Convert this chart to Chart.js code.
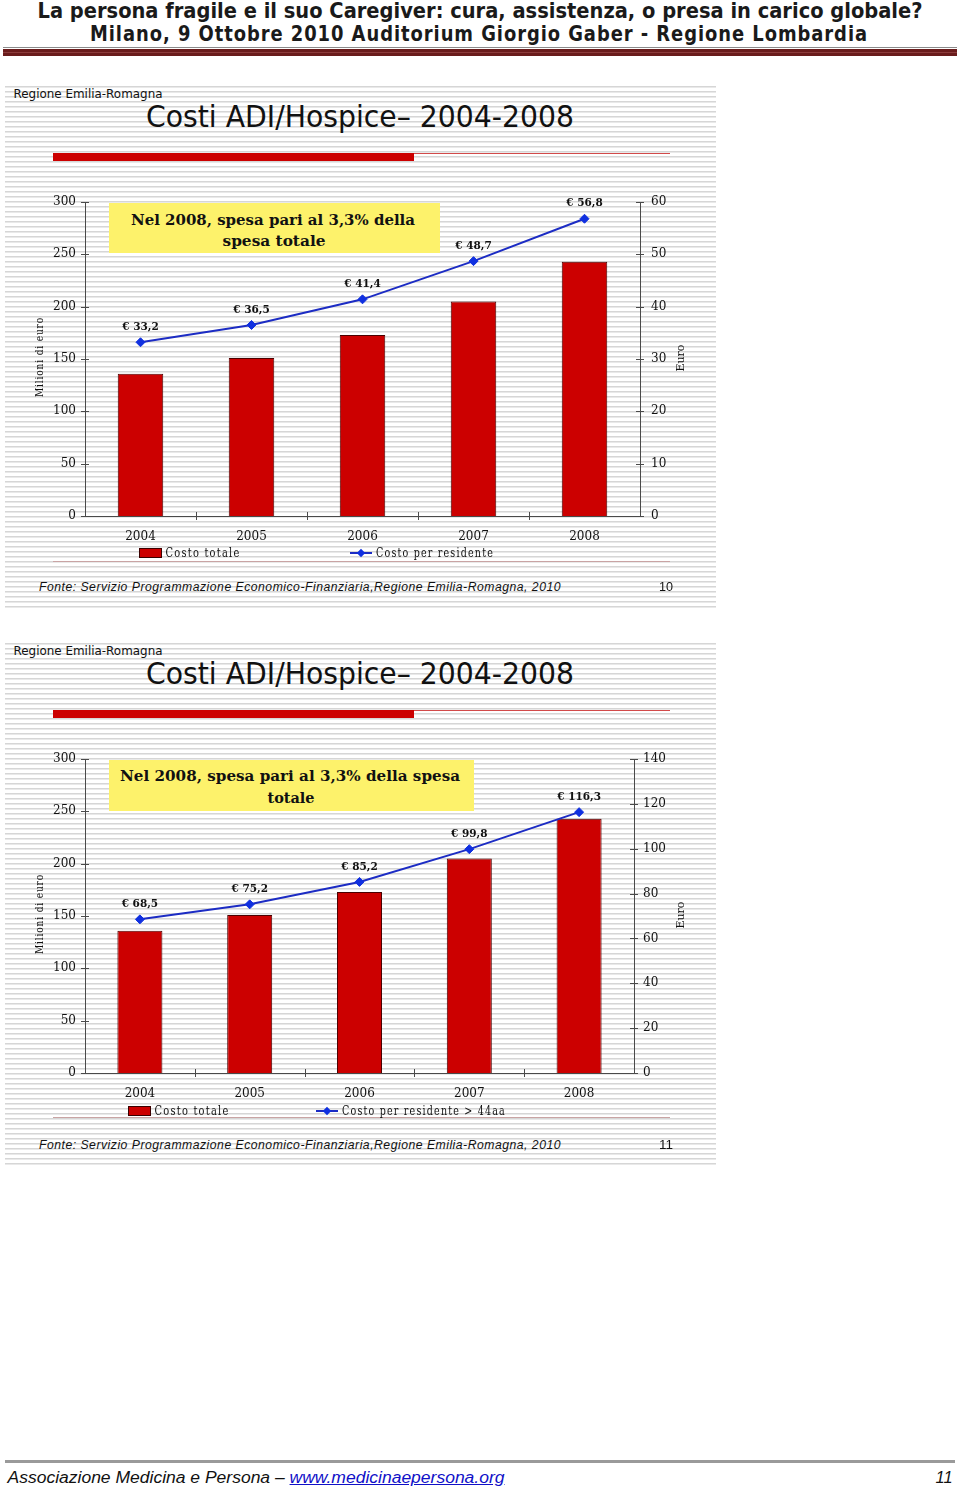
<!DOCTYPE html>
<html>
<head>
<meta charset="utf-8">
<script src="https://cdn.jsdelivr.net/npm/chart.js@4.4.1/dist/chart.umd.min.js"></script>
<style>
html,body{margin:0;padding:0;background:#fff;}
body{width:960px;height:1492px;position:relative;overflow:hidden;}
.a{position:absolute;white-space:nowrap;line-height:1;}
.blk{position:absolute;}
canvas{position:absolute;left:0;}
</style>
</head>
<body>
<script>
// ---------------- DATA ----------------
const years = ['2004', '2005', '2006', '2007', '2008'];
const costoTotale = [136, 151, 173, 205, 243];          // milioni di euro
const costoPerResidente = [33.2, 36.5, 41.4, 48.7, 56.8];      // euro
const costoPerResidente44 = [68.5, 75.2, 85.2, 99.8, 116.3];   // euro, residenti > 44 anni
const leftAxis = {min: 0, max: 300, step: 50};
const rightAxis1 = {min: 0, max: 60, step: 10};
const rightAxis2 = {min: 0, max: 140, step: 20};

const SERIF = '"DejaVu Serif", serif';
const SANS = '"DejaVu Sans", Verdana, sans-serif';
const HELV = '"Liberation Sans", Arial, sans-serif';
const NARROW = '"Liberation Sans Narrow", "DejaVu Sans Condensed", "Liberation Sans", sans-serif';
const AXIS = '#4a4a4a';
const RED = '#cc0000';
const BLUE = '#1c2cc4';

function box(l, t, w, h, bg, extra) {
  const d = document.createElement('div');
  d.className = 'blk';
  Object.assign(d.style, {left: l + 'px', top: t + 'px', width: w + 'px', height: h + 'px', background: bg}, extra || {});
  document.body.appendChild(d);
  return d;
}
function txt(s, o) {
  const e = document.createElement('span');
  e.className = 'a';
  if (o.html) e.innerHTML = s; else e.textContent = s;
  Object.assign(e.style, {
    fontFamily: o.font, fontSize: o.size + 'px', fontWeight: o.weight || 'normal',
    fontStyle: o.style || 'normal', color: o.color || '#111', letterSpacing: (o.ls || 0) + 'px',
    left: '0px', top: '0px', zIndex: 5
  });
  document.body.appendChild(e);
  const nat = e.getBoundingClientRect();
  const k = o.w ? o.w / nat.width : 1;
  e.style.left = o.cx + 'px';
  e.style.top = o.cy + 'px';
  e.style.transform = 'translate(-50%,-50%)' + (o.rot ? ' rotate(-90deg)' : '') + ' scaleX(' + k + ')';
  return e;
}

// ---------------- HEADER ----------------
txt('La persona fragile e il suo Caregiver: cura, assistenza, o presa in carico globale?', {cx: 479.5, cy: 11, w: 885, size: 21, font: NARROW, weight: 'bold', color: '#1a1a1a'});
txt('Milano, 9 Ottobre 2010 Auditorium Giorgio Gaber - Regione Lombardia', {cx: 479, cy: 34, w: 778, size: 21, font: NARROW, weight: 'bold', color: '#1a1a1a', ls: 1});
box(3, 47, 954, 1, '#8a8a8a');
box(3, 49, 954, 7, '#6a1c1c');
box(3, 52, 954, 1, '#8c3c3c');

// ---------------- SLIDES ----------------
function slide(dy, opts) {
  box(5, 86 + dy, 711, 523, '', {background: 'repeating-linear-gradient(to bottom,#d6d6d6 0px,#d6d6d6 1px,#e9e9e9 1px,#e9e9e9 2px,#ffffff 2px,#ffffff 5px)'});
  txt('Regione Emilia-Romagna', {cx: 87.5, cy: 94 + dy, w: 149, size: 12, font: SANS});
  txt('Costi ADI/Hospice\u2013 2004-2008', {cx: 360, cy: 117 + dy, w: 428, size: 30, font: SANS});
  box(53, 153 + dy, 361, 8, RED);
  box(414, 153 + dy, 256, 1, '#d24a4a');

  // yellow box
  box(109, opts.yb.t + dy, opts.yb.w, opts.yb.h, '#fdf26b', {zIndex: 4});
  opts.ylines.forEach(l => txt(l.s, {cx: l.cx, cy: l.cy + dy, w: l.w, size: 14.5, font: SERIF, weight: 'bold', color: '#111'}));

  // axis titles
  txt('Milioni di euro', {cx: 39, cy: 357 + dy, w: 80, size: 11, font: SERIF, rot: true, ls: 1});
  txt('Euro', {cx: 680, cy: 358 + dy, w: 27, size: 11, font: SERIF, rot: true});

  // legend
  const L = opts.leg;
  box(L.bx, 548 + dy + (L.ady || 0), 21, 8, RED, {border: '1px solid #3a0000'});
  txt('Costo totale', {cx: L.t1cx, cy: 553 + dy + (L.ady || 0), w: 75, size: 12, font: SERIF, ls: 1.5});
  box(L.lx, 552 + dy + (L.ady || 0), 22, 2, BLUE);
  box(L.lx + 8, 550 + dy + (L.ady || 0), 6, 6, '#1030e0', {transform: 'rotate(45deg)'});
  txt(L.t2, {cx: L.t2cx, cy: 553 + dy + (L.ady || 0), w: L.t2w, size: 12, font: SERIF, ls: 1.5});
  box(53, opts.sepY, 617, 1, '#c9a4a4');

  txt('Fonte: Servizio Programmazione Economico-Finanziaria,Regione Emilia-Romagna, 2010', {cx: 300, cy: opts.fonteY, w: 522, size: 12, font: HELV, style: 'italic', color: '#111', ls: 0.5});
  txt(opts.page, {cx: 666, cy: opts.fonteY, w: 14, size: 12, font: HELV, color: '#111'});

  // chart canvas
  const c = document.createElement('canvas');
  c.width = 720; c.height = 370;
  c.style.top = (182 + dy) + 'px';
  c.style.zIndex = 3;
  document.body.appendChild(c);
  return c;
}

const crossTicks = {
  id: 'crossTicks',
  afterDraw(chart) {
    const ctx = chart.ctx, ca = chart.chartArea;
    const {x, y, y1} = chart.scales;
    ctx.save();
    ctx.strokeStyle = AXIS; ctx.lineWidth = 1;
    ctx.beginPath();
    y.ticks.forEach(t => { const p = Math.round(y.getPixelForValue(t.value)) + 0.5; ctx.moveTo(ca.left - 4, p); ctx.lineTo(ca.left + 4, p); });
    y1.ticks.forEach(t => { const p = Math.round(y1.getPixelForValue(t.value)) + 0.5; ctx.moveTo(ca.right - 4, p); ctx.lineTo(ca.right + 4, p); });
    for (let i = 1; i < x.ticks.length; i++) {
      const p = Math.round((x.getPixelForValue(i - 1) + x.getPixelForValue(i)) / 2) + 0.5;
      ctx.moveTo(p, ca.bottom - 4); ctx.lineTo(p, ca.bottom + 4);
    }
    ctx.stroke();
    ctx.restore();
  }
};
const valueLabels = {
  id: 'valueLabels',
  afterDatasetsDraw(chart) {
    const ctx = chart.ctx;
    const meta = chart.getDatasetMeta(1);
    const ds = chart.data.datasets[1];
    ctx.save();
    ctx.font = 'bold 10.5px ' + SERIF;
    ctx.fillStyle = '#111';
    ctx.textAlign = 'center';
    ctx.textBaseline = 'middle';
    meta.data.forEach((pt, i) => {
      ctx.fillText('\u20ac ' + ds.data[i].toFixed(1).replace('.', ','), pt.x, pt.y - 15);
    });
    ctx.restore();
  }
};

function makeChart(canvas, lineData, lineLabel, rAx, rightWidth, rightPad) {
  const tickFont = {family: SERIF, size: 12};
  return new Chart(canvas, {
    type: 'bar',
    data: {
      labels: years,
      datasets: [
        {type: 'bar', label: 'Costo totale', data: costoTotale, yAxisID: 'y', order: 2,
         backgroundColor: RED, borderColor: '#4a0000', borderWidth: 1,
         categoryPercentage: 1, barPercentage: 0.41},
        {type: 'line', label: lineLabel, data: lineData, yAxisID: 'y1', order: 1,
         borderColor: BLUE, borderWidth: 2, backgroundColor: '#1030e0',
         pointStyle: 'rectRot', pointRadius: 4.5, pointBorderColor: '#1030e0', pointBorderWidth: 1,
         tension: 0, fill: false}
      ]
    },
    options: {
      responsive: false, animation: false, devicePixelRatio: 1,
      layout: {padding: {top: 20, left: 0, right: 0, bottom: 0}},
      plugins: {legend: {display: false}, tooltip: {enabled: false}, title: {display: false}},
      scales: {
        x: {type: 'category', offset: true,
            grid: {display: false, drawTicks: false},
            border: {display: true, color: AXIS, width: 1},
            ticks: {font: tickFont, color: '#111', padding: 14, maxRotation: 0, autoSkip: false},
            afterFit(s) { s.height = 36; }},
        y: {position: 'left', min: leftAxis.min, max: leftAxis.max,
            grid: {display: false, drawTicks: false},
            border: {display: true, color: AXIS, width: 1},
            ticks: {stepSize: leftAxis.step, font: tickFont, color: '#111', padding: 9},
            afterFit(s) { s.width = 85; }},
        y1: {position: 'right', min: rAx.min, max: rAx.max,
             grid: {display: false, drawTicks: false},
             border: {display: true, color: AXIS, width: 1},
             ticks: {stepSize: rAx.step, font: tickFont, color: '#111', padding: rightPad},
             afterFit(s) { s.width = rightWidth; }}
      }
    },
    plugins: [crossTicks, valueLabels]
  });
}

const c1 = slide(0, {
  yb: {t: 203, w: 331, h: 50},
  ylines: [{s: 'Nel 2008, spesa pari al 3,3% della', cx: 273, cy: 220, w: 284},
           {s: 'spesa totale', cx: 273.5, cy: 241, w: 103}],
  leg: {bx: 139, t1cx: 202.5, lx: 350, t2: 'Costo per residente', t2cx: 435, t2w: 118},
  sepY: 561, fonteY: 587, page: '10'
});
const c2 = slide(557, {
  yb: {t: 203, w: 365, h: 51},
  ylines: [{s: 'Nel 2008, spesa pari al 3,3% della spesa', cx: 290, cy: 219, w: 340},
           {s: 'totale', cx: 290.5, cy: 241, w: 47}],
  leg: {bx: 128, t1cx: 191.5, lx: 316, t2: 'Costo per residente > 44aa', t2cx: 424, t2w: 164, ady: 1},
  sepY: 1117, fonteY: 1145, page: '11'
});

makeChart(c1, costoPerResidente, 'Costo per residente', rightAxis1, 80, 11);
makeChart(c2, costoPerResidente44, 'Costo per residente > 44aa', rightAxis2, 86, 9);

// ---------------- FOOTER ----------------
box(5, 1460, 950, 3, '#9a9a9a');
txt('Associazione Medicina e Persona \u2013 <span style="color:#1010c8;text-decoration:underline;">www.medicinaepersona.org</span>', {html: true, cx: 255.5, cy: 1478, w: 497, size: 16, font: HELV, style: 'italic', color: '#111'});
txt('11', {cx: 944, cy: 1478, w: 17, size: 16, font: HELV, style: 'italic', color: '#111'});
</script>
</body>
</html>
